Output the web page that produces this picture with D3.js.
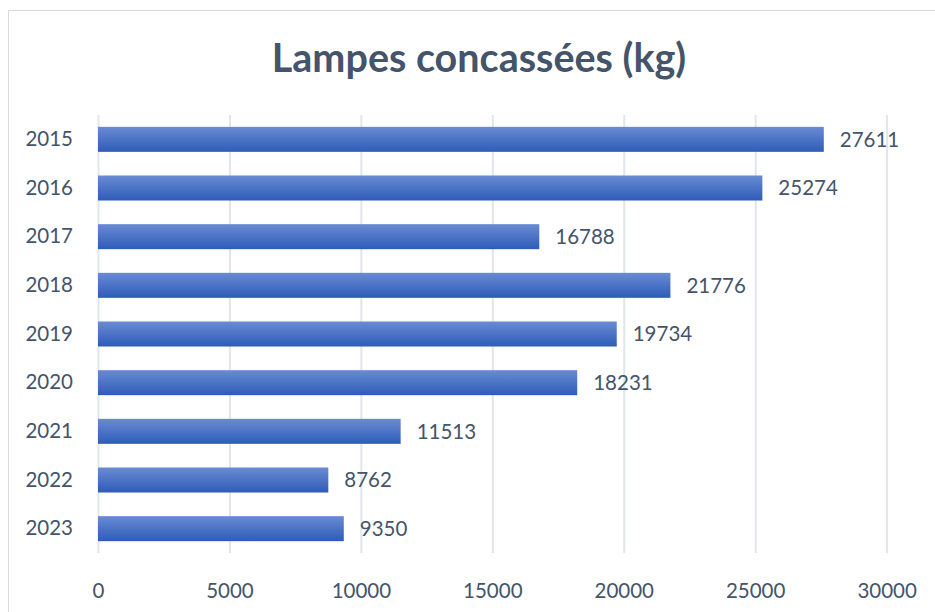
<!DOCTYPE html>
<html>
<head>
<meta charset="utf-8">
<script src="https://cdn.jsdelivr.net/npm/d3@7"></script>
<style>
  body { margin: 0; background: #fff; }
  svg { display: block; font-family: Lato, "Open Sans", sans-serif; }
</style>
</head>
<body>
<div id="chart"></div>
<script>
// data
const years = ["2015", "2016", "2017", "2018", "2019", "2020", "2021", "2022", "2023"];
const weights = [27611, 25274, 16788, 21776, 19734, 18231, 11513, 8762, 9350];
const xTicks = [0, 5000, 10000, 15000, 20000, 25000, 30000];
const title = "Lampes concassées (kg)";

const W = 935, H = 612;
const margin = { top: 115, right: 48, bottom: 59, left: 98 };
const textColor = "#44546a";

const svg = d3.select("#chart").append("svg")
    .attr("width", W).attr("height", H);

// chart frame
svg.append("rect")
    .attr("x", 8.5).attr("y", 10.5)
    .attr("width", W).attr("height", H)
    .attr("fill", "#fff").attr("stroke", "#d9d9d9");

const grad = svg.append("defs").append("linearGradient")
    .attr("id", "barGrad").attr("x1", 0).attr("y1", 0).attr("x2", 0).attr("y2", 1);
grad.append("stop").attr("offset", "0%").attr("stop-color", "#6a8bd3");
grad.append("stop").attr("offset", "100%").attr("stop-color", "#2d5cb8");

const width = 886.6 - margin.left;
const height = H - margin.top - margin.bottom;

const x = d3.scaleLinear().domain([0, 30000]).range([0, width]);
const y = d3.scaleBand().domain(years).range([0, height]).paddingInner(0.486).paddingOuter(0.243);

const g = svg.append("g")
    .attr("transform", "translate(" + margin.left + "," + margin.top + ")");

// GRID
g.append("g")
    .call(d3.axisBottom(x).tickValues(xTicks).tickSize(height).tickFormat(""))
    .call(s => s.select(".domain").remove())
    .selectAll("line").attr("stroke", "#e1e5ec").attr("stroke-width", 2);

// X LABELS
g.append("g")
    .attr("transform", "translate(0," + height + ")")
    .call(d3.axisBottom(x).tickValues(xTicks).tickSize(0).tickPadding(30).tickFormat(d3.format("d")))
    .call(s => s.select(".domain").remove())
    .selectAll("text")
    .attr("fill", textColor).attr("font-size", "20.5px").attr("font-family", "Lato, sans-serif");

// Y LABELS
g.append("g")
    .call(d3.axisLeft(y).tickSize(0).tickPadding(25))
    .call(s => s.select(".domain").remove())
    .selectAll("text")
    .attr("fill", textColor).attr("font-size", "20.5px").attr("font-family", "Lato, sans-serif");

// BARS
g.selectAll(".bar")
    .data(years)
    .enter().append("rect")
    .attr("class", "bar")
    .attr("x", x(0))
    .attr("y", d => y(d))
    .attr("width", (d, i) => x(weights[i]) - x(0))
    .attr("height", y.bandwidth())
    .attr("fill", "url(#barGrad)");

// VALUE LABELS
g.selectAll(".val")
    .data(years)
    .enter().append("text")
    .attr("class", "val")
    .attr("x", (d, i) => x(weights[i]) + 16)
    .attr("y", d => y(d) + y.bandwidth() / 2)
    .attr("dy", "0.35em")
    .attr("fill", textColor)
    .attr("font-size", "20.5px")
    .text((d, i) => weights[i]);

// TITLE
svg.append("text")
    .attr("x", 479).attr("y", 72)
    .attr("text-anchor", "middle")
    .attr("fill", textColor)
    .attr("font-size", "39.5px")
    .attr("font-weight", "bold")
    .text(title);
</script>
</body>
</html>
